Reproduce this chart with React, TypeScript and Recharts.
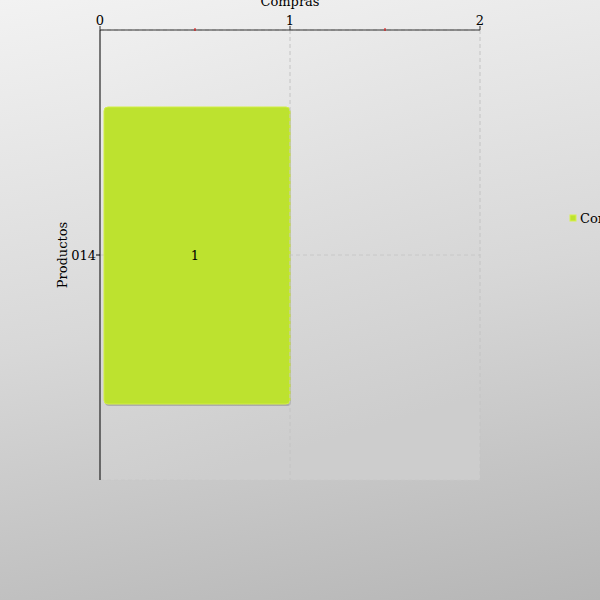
import React from 'react';
import { BarChart, Bar, XAxis, YAxis, CartesianGrid, ReferenceLine, LabelList } from 'recharts';

const categories = ['014'];
const compras = [1];
const xTicks = [0, 0.5, 1, 1.5, 2];
const gridValues = [1, 2];
const seriesName = 'Compras';

const data = categories.map((c, i) => ({ producto: c, compras: compras[i] }));

const FONT = '"DejaVu Serif", serif';
const FS = 13;

const TopTick = (props: any) => {
  const { x, y, payload } = props;
  const v = payload.value;
  const axisY = y + 5;
  const major = Number.isInteger(v);
  return (
    <g>
      {major ? (
        <>
          <line x1={x} x2={x} y1={axisY - 4} y2={axisY} stroke="#333" />
          <text x={x} y={axisY - 5} textAnchor="middle" fontFamily={FONT} fontSize={FS} fill="#000">
            {v}
          </text>
        </>
      ) : (
        <line x1={x} x2={x} y1={axisY - 2} y2={axisY + 1} stroke="#e00000" />
      )}
    </g>
  );
};

const BarShape = (props: any) => {
  const { x, y, width, height } = props;
  const inset = 4;
  const bx = x + inset;
  const bw = Math.max(0, width - inset);
  return (
    <g>
      <rect x={bx + 1} y={y + 2} width={bw} height={height} rx={4} ry={4} fill="rgba(0,0,0,0.18)" />
      <rect x={bx} y={y} width={bw} height={height} rx={4} ry={4} fill="#bde22f" stroke="#d2ee45" strokeWidth={1} />
    </g>
  );
};

const LegendBox = () => (
  <g>
    <rect x={570} y={215} width={6} height={6} fill="#bde22f" stroke="#d8f050" />
    <text x={580} y={223} fontFamily={FONT} fontSize={FS} fill="#000">
      {seriesName}
    </text>
  </g>
);

export default function App() {
  return (
    <div
      style={{
        position: 'absolute',
        left: 0,
        top: 0,
        width: 600,
        height: 600,
        overflow: 'hidden',
        background: 'linear-gradient(170deg, #f2f2f2 0%, #d8d8d8 50%, #b6b6b6 100%)',
      }}
    >
      <BarChart
        width={600}
        height={600}
        layout="vertical"
        data={data}
        margin={{ top: 0, right: 120, bottom: 120, left: 40 }}
        style={{ fontFamily: FONT }}
      >
        <defs>
          <linearGradient id="plotBg" x1="0" y1="0" x2="0.25" y2="1">
            <stop offset="0%" stopColor="#efefef" />
            <stop offset="100%" stopColor="#cdcdcd" />
          </linearGradient>
        </defs>
        <CartesianGrid fill="url(#plotBg)" vertical={false} stroke="#c8c8c8" strokeDasharray="4 3" />
        {gridValues.map((g) => (
          <ReferenceLine key={g} x={g} stroke="#c4c4c4" strokeDasharray="4 3" />
        ))}
        <XAxis
          type="number"
          orientation="top"
          domain={[0, 2]}
          ticks={xTicks}
          interval={0}
          height={30}
          tickLine={false}
          tickSize={4}
          tickMargin={1}
          tick={<TopTick />}
          axisLine={{ stroke: '#333' }}
          label={{ value: 'Compras', position: 'insideTop', offset: -3, fill: '#000', fontSize: FS, fontFamily: FONT }}
        />
        <YAxis
          type="category"
          dataKey="producto"
          width={60}
          tickSize={4}
          tickMargin={0}
          axisLine={{ stroke: '#000' }}
          tickLine={{ stroke: '#000' }}
          tick={{ fill: '#000', fontSize: FS, fontFamily: FONT }}
          label={{ value: 'Productos', angle: -90, position: 'insideLeft', offset: 22, textAnchor: 'middle', fill: '#000', fontSize: FS, fontFamily: FONT }}
        />
        <Bar
          dataKey="compras"
          name={seriesName}
          fill="#bde22f"
          barSize={297}
          shape={<BarShape />}
          isAnimationActive={false}
        >
          <LabelList dataKey="compras" position="center" fill="#000" fontSize={FS} fontFamily={FONT} />
        </Bar>
        <LegendBox />
      </BarChart>
    </div>
  );
}
